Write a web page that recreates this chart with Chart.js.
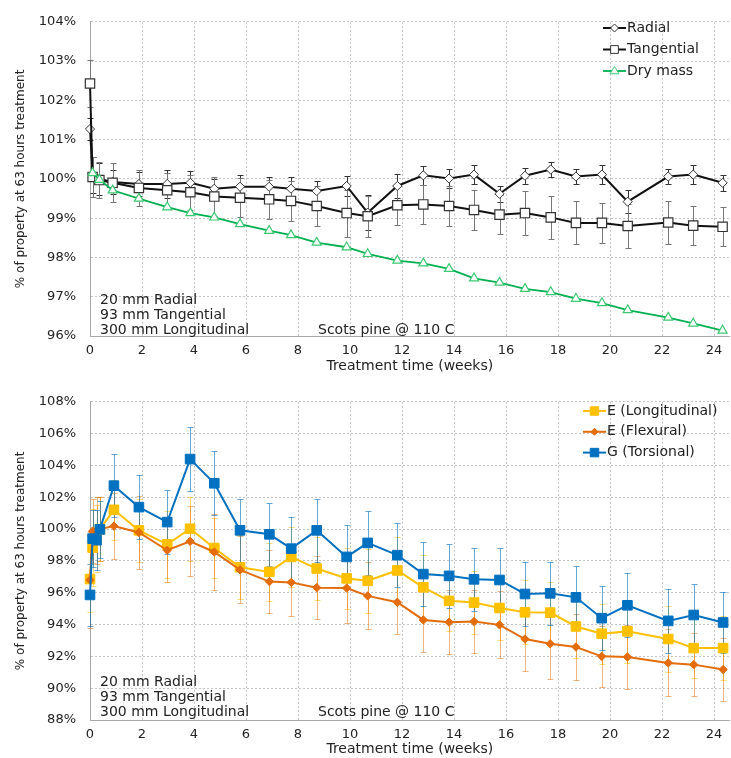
<!DOCTYPE html>
<html>
<head>
<meta charset="utf-8">
<script src="https://cdn.jsdelivr.net/npm/chart.js@4.4.0/dist/chart.umd.min.js"></script>
<style>
  html, body { margin: 0; padding: 0; background: #fff; }
  #wrap { position: relative; width: 731px; height: 758px; }
  #wrap canvas { position: absolute; left: 0; }
  #topChart { top: 0; }
  #bottomChart { top: 380px; }
</style>
</head>
<body>
<div id="wrap">
  <canvas id="topChart" width="731" height="380"></canvas>
  <canvas id="bottomChart" width="731" height="378"></canvas>
</div>
<script>
// top panel: dimensions and dry mass
const weeksTop = [0, 0.1, 0.36, 0.87, 1.88, 2.97, 3.86, 4.78, 5.77, 6.89, 7.73, 8.72, 9.87, 10.68, 11.82, 12.82, 13.81, 14.77, 15.75, 16.73, 17.72, 18.69, 19.69, 20.68, 22.24, 23.2, 24.33];
const radial = [101.27, 100.1, 100.0, 99.92, 99.87, 99.87, 99.9, 99.75, 99.8, 99.8, 99.75, 99.69, 99.82, 99.14, 99.82, 100.09, 100.01, 100.11, 99.62, 100.08, 100.24, 100.06, 100.11, 99.42, 100.06, 100.11, 99.9];
const radialErr = [0.27, 0.45, 0.4, 0.3, 0.3, 0.35, 0.3, 0.25, 0.3, 0.25, 0.3, 0.25, 0.25, 0.45, 0.3, 0.25, 0.25, 0.25, 0.2, 0.2, 0.2, 0.2, 0.25, 0.3, 0.2, 0.25, 0.2];
const tangential = [102.43, 100.05, 99.97, 99.9, 99.77, 99.71, 99.66, 99.55, 99.52, 99.48, 99.44, 99.31, 99.13, 99.05, 99.33, 99.35, 99.31, 99.21, 99.09, 99.13, 99.02, 98.88, 98.88, 98.8, 98.89, 98.81, 98.78];
const tangentialErr = [0.6, 0.5, 0.45, 0.5, 0.45, 0.45, 0.45, 0.5, 0.5, 0.5, 0.5, 0.5, 0.6, 0.52, 0.5, 0.5, 0.5, 0.5, 0.5, 0.55, 0.55, 0.55, 0.5, 0.55, 0.55, 0.5, 0.5];
const dryMass = [null, 100.15, 99.98, 99.71, 99.5, 99.28, 99.13, 99.02, 98.85, 98.68, 98.57, 98.38, 98.26, 98.09, 97.92, 97.85, 97.71, 97.47, 97.36, 97.2, 97.12, 96.95, 96.84, 96.66, 96.47, 96.32, 96.14];

// bottom panel: stiffness
const weeksBottom = [0, 0.1, 0.25, 0.38, 0.92, 1.88, 2.97, 3.85, 4.78, 5.77, 6.9, 7.74, 8.72, 9.87, 10.68, 11.82, 12.82, 13.81, 14.77, 15.75, 16.73, 17.7, 18.69, 19.68, 20.67, 22.24, 23.22, 24.35];
const eLong = [96.86, 98.84, 99.4, 100.0, 101.21, 99.92, 99.04, 100.02, 98.81, 97.6, 97.31, 98.25, 97.52, 96.9, 96.75, 97.4, 96.34, 95.49, 95.38, 95.04, 94.77, 94.75, 93.88, 93.42, 93.57, 93.09, 92.52, 92.52];
const eLongErr = [2.05, 2.4, 2.1, 2.0, 1.9, 2.0, 2.1, 2.0, 1.9, 2.0, 1.8, 1.9, 2.0, 1.9, 2.0, 2.1, 2.0, 1.9, 2.0, 2.0, 2.0, 1.9, 2.0, 1.9, 2.0, 2.1, 1.9, 2.0];
const eFlex = [96.8, 99.87, 99.9, 100.0, 100.19, 99.79, 98.67, 99.23, 98.56, 97.44, 96.7, 96.65, 96.32, 96.29, 95.8, 95.4, 94.29, 94.15, 94.19, 93.98, 93.09, 92.79, 92.59, 92.0, 91.96, 91.59, 91.48, 91.17];
const eFlexErr = [3.0, 2.0, 2.1, 2.0, 2.1, 2.3, 2.0, 2.2, 2.4, 2.1, 2.0, 2.1, 2.0, 2.2, 2.1, 2.0, 2.0, 2.0, 2.0, 2.1, 2.0, 2.2, 2.1, 1.9, 2.0, 2.1, 2.0, 2.0];
const gTors = [95.86, 99.4, 99.3, 99.98, 102.73, 101.38, 100.44, 104.4, 102.88, 99.92, 99.67, 98.77, 99.92, 98.25, 99.13, 98.36, 97.17, 97.06, 96.84, 96.8, 95.92, 95.96, 95.71, 94.4, 95.21, 94.23, 94.6, 94.13];
const gTorsErr = [1.96, 1.8, 1.9, 1.8, 2.0, 2.0, 2.0, 2.0, 2.0, 2.0, 2.0, 2.0, 2.0, 2.0, 2.0, 2.0, 2.0, 2.0, 2.0, 2.0, 2.0, 2.0, 2.0, 2.0, 2.0, 2.0, 1.95, 1.9];

const FONT = 'DejaVu Sans';
const TEXT = '#222';

function points(xs, ys) {
  return xs.map((x, i) => ({ x: x, y: ys[i] }));
}

function drawMarker(ctx, style, x, y, r, fill, stroke) {
  ctx.beginPath();
  if (style === 'rect') {
    const s = r * Math.SQRT1_2;
    ctx.rect(x - s, y - s, 2 * s, 2 * s);
  } else if (style === 'rectRot') {
    ctx.moveTo(x, y - r); ctx.lineTo(x + r, y); ctx.lineTo(x, y + r); ctx.lineTo(x - r, y);
    ctx.closePath();
  } else {
    ctx.moveTo(x, y - r); ctx.lineTo(x + r, y + r / 2 + 0.5); ctx.lineTo(x - r, y + r / 2 + 0.5);
    ctx.closePath();
  }
  ctx.fillStyle = fill; ctx.fill();
  ctx.lineWidth = 1; ctx.strokeStyle = stroke; ctx.stroke();
}

const errorBars = {
  id: 'errorBars',
  beforeDatasetsDraw(chart) {
    const { ctx, scales: { x, y } } = chart;
    chart.data.datasets.forEach(ds => {
      if (!ds.errors) return;
      ctx.save();
      ctx.strokeStyle = ds.errorColor;
      ctx.lineWidth = 1;
      ds.data.forEach((p, j) => {
        if (p.y == null) return;
        const px = Math.round(x.getPixelForValue(p.x)) + 0.5;
        const top = Math.round(y.getPixelForValue(p.y + ds.errors[j])) + 0.5;
        const bot = Math.round(y.getPixelForValue(p.y - ds.errors[j])) + 0.5;
        ctx.beginPath();
        ctx.moveTo(px, top); ctx.lineTo(px, bot);
        ctx.moveTo(px - 3, top); ctx.lineTo(px + 3, top);
        ctx.moveTo(px - 3, bot); ctx.lineTo(px + 3, bot);
        ctx.stroke();
      });
      ctx.restore();
    });
  }
};

const legendBox = {
  id: 'legendBox',
  afterDraw(chart, args, opts) {
    const ctx = chart.ctx;
    ctx.save();
    ctx.font = '14px "' + FONT + '"';
    ctx.textBaseline = 'middle';
    chart.data.datasets.forEach((ds, i) => {
      const y = opts.y + i * opts.gap;
      ctx.strokeStyle = ds.borderColor;
      ctx.lineWidth = ds.borderWidth;
      ctx.beginPath(); ctx.moveTo(opts.x, y); ctx.lineTo(opts.x + 23, y); ctx.stroke();
      drawMarker(ctx, ds.pointStyle, opts.x + 11.5, y, ds.legendRadius, ds.pointBackgroundColor, ds.pointBorderColor);
      ctx.fillStyle = TEXT;
      ctx.fillText(ds.label, opts.x + 24, y);
    });
    ctx.restore();
  }
};

const notes = {
  id: 'notes',
  afterDraw(chart, args, opts) {
    const ctx = chart.ctx;
    ctx.save();
    ctx.font = '14px "' + FONT + '"';
    ctx.textBaseline = 'middle';
    ctx.fillStyle = TEXT;
    opts.lines.forEach(l => ctx.fillText(l.text, l.x, l.y));
    ctx.restore();
  }
};

function baseOptions(yMin, yMax, yStep, padTop, xHeight, titlePadBottom, noteTop) {
  return {
    responsive: false,
    animation: false,
    layout: { autoPadding: false, padding: { top: padTop, right: 1.4, left: 0, bottom: 0 } },
    elements: { line: { tension: 0 } },
    datasets: { line: { clip: false } },
    plugins: {
      legend: { display: false },
      tooltip: { enabled: false },
      notes: {
        lines: [
          { text: '20 mm Radial', x: 100, y: noteTop },
          { text: '93 mm Tangential', x: 100, y: noteTop + 15 },
          { text: '300 mm Longitudinal', x: 100, y: noteTop + 30 },
          { text: 'Scots pine @ 110 C', x: 318, y: noteTop + 30 }
        ]
      }
    },
    scales: {
      x: {
        type: 'linear', min: 0, max: 24.6,
        afterBuildTicks: s => { s.ticks = s.ticks.filter(t => t.value % 2 === 0); },
        afterFit: s => { s.height = xHeight; s.paddingLeft = 0; s.paddingRight = 0; },
        ticks: { stepSize: 2, includeBounds: false, padding: 7, color: TEXT, font: { family: FONT, size: 13 } },
        grid: { color: '#c4c4c4', drawTicks: false },
        border: { color: '#a8a8a8', dash: [2, 2] },
        title: { display: true, text: 'Treatment time (weeks)', color: TEXT, font: { family: FONT, size: 14 }, padding: { top: 0, bottom: titlePadBottom } }
      },
      y: {
        min: yMin, max: yMax,
        afterFit: s => { s.width = 90; },
        ticks: { stepSize: yStep, padding: 14, color: TEXT, font: { family: FONT, size: 13 }, callback: v => v + '%' },
        grid: { color: '#c4c4c4', drawTicks: false },
        border: { color: '#a8a8a8', dash: [2, 2] },
        title: { display: true, text: '% of property at 63 hours treatment', color: TEXT, font: { family: FONT, size: 12 }, padding: { top: 14, bottom: 0 } }
      }
    }
  };
}

const topOpts = baseOptions(96, 104, 1, 19.3, 44, 5.6, 300);
topOpts.plugins.legendBox = { x: 603, y: 28, gap: 21.5 };

new Chart(document.getElementById('topChart'), {
  type: 'line',
  data: {
    datasets: [
      {
        label: 'Radial', data: points(weeksTop, radial), order: 3,
        borderColor: '#111', borderWidth: 2,
        pointStyle: 'rectRot', pointRadius: 4.6, legendRadius: 4,
        pointBackgroundColor: '#fff', pointBorderColor: '#333', pointBorderWidth: 1,
        errors: radialErr, errorColor: '#333'
      },
      {
        label: 'Tangential', data: points(weeksTop, tangential), order: 2,
        borderColor: '#111', borderWidth: 2,
        pointStyle: 'rect', pointRadius: 6.6, legendRadius: 5.5,
        pointBackgroundColor: '#fff', pointBorderColor: '#333', pointBorderWidth: 1.2,
        errors: tangentialErr, errorColor: '#777'
      },
      {
        label: 'Dry mass', data: points(weeksTop, dryMass), order: 1,
        borderColor: '#00b050', borderWidth: 1.8,
        pointStyle: 'triangle', pointRadius: 5.2, legendRadius: 4.5,
        pointBackgroundColor: '#fff', pointBorderColor: '#3dc873', pointBorderWidth: 1.2
      }
    ]
  },
  options: topOpts,
  plugins: [errorBars, legendBox, notes]
});

const bottomOpts = baseOptions(88, 108, 2, 20.7, 38, 0, 302);
bottomOpts.plugins.legendBox = { x: 583, y: 31, gap: 20.8 };

new Chart(document.getElementById('bottomChart'), {
  type: 'line',
  data: {
    datasets: [
      {
        label: 'E (Longitudinal)', data: points(weeksBottom, eLong), order: 3,
        borderColor: '#ffc000', borderWidth: 2,
        pointStyle: 'rect', pointRadius: 6.8, legendRadius: 6,
        pointBackgroundColor: '#ffc000', pointBorderColor: '#ffc000', pointBorderWidth: 1,
        errors: eLongErr, errorColor: 'rgba(255,192,0,0.55)'
      },
      {
        label: 'E (Flexural)', data: points(weeksBottom, eFlex), order: 2,
        borderColor: '#e46c0a', borderWidth: 2,
        pointStyle: 'rectRot', pointRadius: 4.2, legendRadius: 3.5,
        pointBackgroundColor: '#e46c0a', pointBorderColor: '#e46c0a', pointBorderWidth: 1,
        errors: eFlexErr, errorColor: 'rgba(228,108,10,0.5)'
      },
      {
        label: 'G (Torsional)', data: points(weeksBottom, gTors), order: 1,
        borderColor: '#0070c0', borderWidth: 2,
        pointStyle: 'rect', pointRadius: 6.8, legendRadius: 6,
        pointBackgroundColor: '#0070c0', pointBorderColor: '#0070c0', pointBorderWidth: 1,
        errors: gTorsErr, errorColor: 'rgba(0,112,192,0.6)'
      }
    ]
  },
  options: bottomOpts,
  plugins: [errorBars, legendBox, notes]
});
</script>
</body>
</html>
